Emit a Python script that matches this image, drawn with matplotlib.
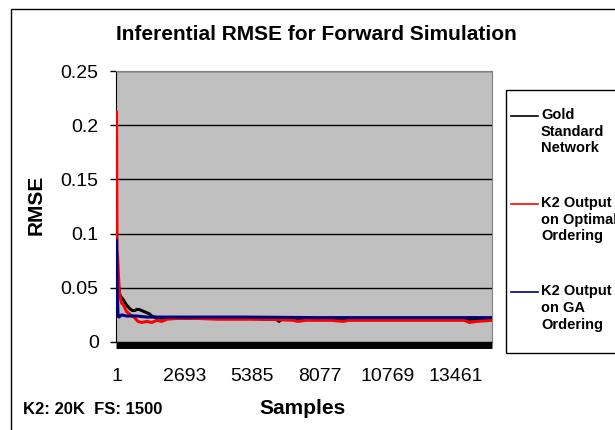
import matplotlib
matplotlib.use("Agg")
import matplotlib.pyplot as plt
from matplotlib.lines import Line2D
from matplotlib.patches import Rectangle

plt.rcParams['font.family'] = ['Liberation Sans', 'DejaVu Sans']

# data (sample index, RMSE)
gold_x = [1, 40, 80, 120, 160, 240, 320, 400, 480, 560, 640, 720, 800, 900, 1000,
          1100, 1200, 1300, 1400, 1500, 1700, 2000, 2500, 3000, 4000, 5000, 6000,
          6350, 6450, 6550, 7000, 8000, 9000, 10000, 11000, 12000, 13000, 14000, 14900]
gold_y = [0.065, 0.062, 0.052, 0.045, 0.042, 0.040, 0.037, 0.034, 0.032, 0.030, 0.029,
          0.029, 0.030, 0.030, 0.029, 0.028, 0.027, 0.026, 0.024, 0.023, 0.022, 0.022,
          0.022, 0.022, 0.022, 0.022, 0.021, 0.021, 0.019, 0.021, 0.021, 0.021, 0.021,
          0.021, 0.021, 0.021, 0.021, 0.021, 0.021]

red_x = [1, 20, 40, 80, 120, 200, 280, 400, 560, 700, 850, 1000, 1200, 1400, 1600,
         1800, 2000, 2500, 3000, 4000, 5000, 6000, 7000, 7200, 7500, 8500, 9000, 9200,
         10000, 12000, 13800, 14000, 14300, 14900]
red_y = [0.212, 0.085, 0.080, 0.060, 0.045, 0.036, 0.034, 0.028, 0.025, 0.023, 0.019,
         0.018, 0.019, 0.018, 0.020, 0.019, 0.021, 0.022, 0.022, 0.021, 0.021, 0.021,
         0.020, 0.019, 0.020, 0.020, 0.019, 0.020, 0.020, 0.020, 0.020, 0.018, 0.019,
         0.020]

blue_x = [1, 30, 60, 100, 200, 400, 800, 1200, 2000, 3000, 5000, 8000, 11000, 14900]
blue_y = [0.094, 0.050, 0.024, 0.023, 0.025, 0.024, 0.024, 0.023, 0.023, 0.023,
          0.023, 0.0225, 0.0225, 0.0225]

series_names = ["Gold\nStandard\nNetwork", "K2 Output\non Optimal\nOrdering",
                "K2 Output\non GA\nOrdering"]
series_colors = ["black", "#ff0000", "#000080"]

x_ticks = [1, 2693, 5385, 8077, 10769, 13461]
y_ticks = [0, 0.05, 0.1, 0.15, 0.2, 0.25]
y_labels = ["0", "0.05", "0.1", "0.15", "0.2", "0.25"]

W, H = 615, 430
fig = plt.figure(figsize=(W / 100, H / 100), dpi=100)
ax = fig.add_axes([116 / W, 1 - 342 / H, (492 - 116) / W, (342 - 71) / H])
ax.set_facecolor("#c0c0c0")

ax.plot(gold_x, gold_y, color=series_colors[0], lw=2.2, zorder=3)
ax.plot(red_x, red_y, color=series_colors[1], lw=2.2, zorder=3)
ax.plot(blue_x, blue_y, color=series_colors[2], lw=2.2, zorder=3)

ax.set_xlim(-20, 14900)
ax.set_ylim(0, 0.25)
ax.set_yticks(y_ticks)
ax.set_yticklabels(y_labels)
ax.set_xticks(x_ticks)
ax.set_xticklabels([str(t) for t in x_ticks])
ax.tick_params(axis='y', length=4.5, width=1, pad=8, labelsize=14, direction='out')
ax.tick_params(axis='x', length=0, pad=16, labelsize=14)
ax.grid(axis='y', color='black', lw=1)
ax.set_axisbelow(True)

for s in ['top', 'right']:
    ax.spines[s].set_color('#808080')
ax.spines['left'].set_color('black')
# dense category tick marks show as a thick black band
ax.spines['bottom'].set_position(('outward', 2.5))
ax.spines['bottom'].set_linewidth(5)
ax.spines['bottom'].set_capstyle('butt')

fig.text(36 / W, 1 - 205 / H, "RMSE", rotation=90, fontsize=15, fontweight='bold',
         ha='center', va='center')
fig.text(303 / W, 1 - 408 / H, "Samples", fontsize=15, fontweight='bold',
         ha='center', va='center')
fig.text(23 / W, 1 - 410 / H, "K2: 20K  FS: 1500", fontsize=12, fontweight='bold',
         ha='left', va='center')
fig.text(316 / W, 1 - 35 / H, "Inferential RMSE for Forward Simulation", fontsize=15,
         fontweight='bold', ha='center', va='center')

# chart border and legend box
fig.add_artist(Rectangle((11 / W, -0.1), 1.2, 1.1 - 9 / H, transform=fig.transFigure,
                         fill=False, edgecolor='black', lw=1))
fig.add_artist(Rectangle((506 / W, 1 - 353 / H), 0.3, (353 - 90) / H,
                         transform=fig.transFigure, fill=False, edgecolor='black', lw=1))
for i, (name, col) in enumerate(zip(series_names, series_colors)):
    y0 = 116 + 88 * i
    fig.add_artist(Line2D([511 / W, 538 / W], [1 - y0 / H, 1 - y0 / H],
                          transform=fig.transFigure, color=col, lw=1.2))
    fig.text(541 / W, 1 - (y0 - 8) / H, name, fontsize=10.5, fontweight='bold',
             ha='left', va='top', linespacing=1.25)

fig.savefig("out.png", dpi=100)
